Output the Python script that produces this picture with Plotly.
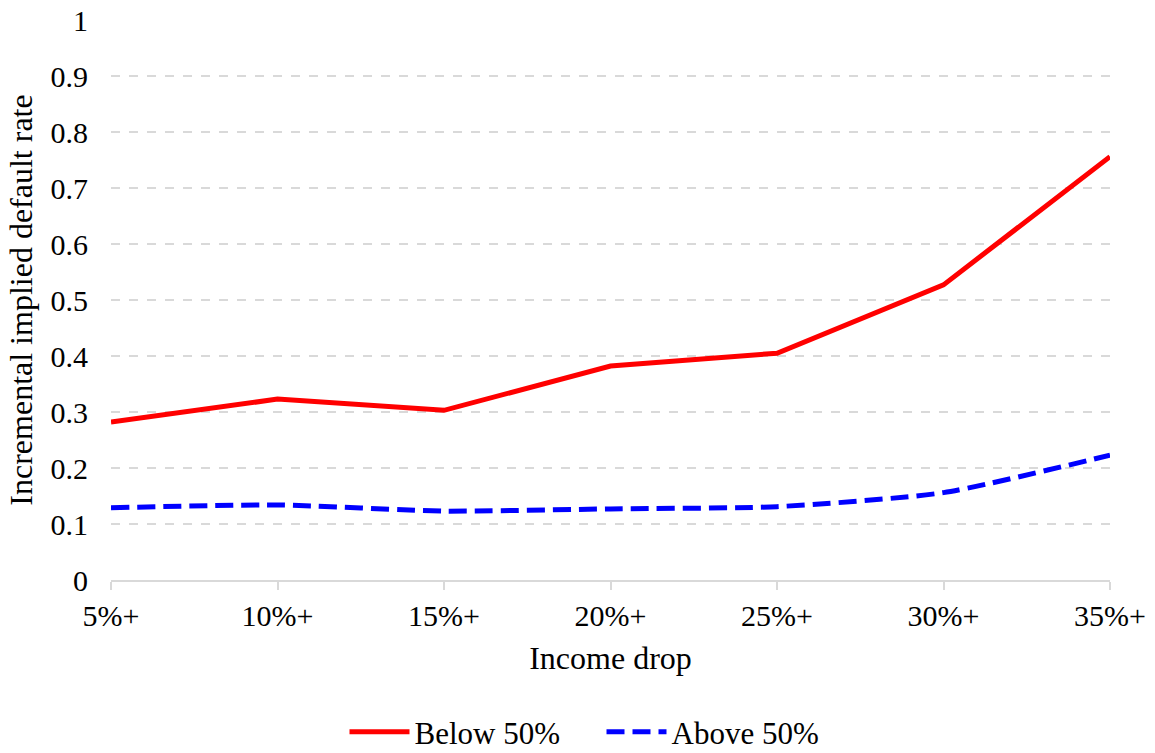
import plotly.graph_objects as go

# Income-drop buckets and the incremental implied default rate per group
income_drop = ["5%+", "10%+", "15%+", "20%+", "25%+", "30%+", "35%+"]
below_50 = [0.282, 0.323, 0.303, 0.382, 0.405, 0.527, 0.756]
above_50 = [0.129, 0.134, 0.123, 0.127, 0.131, 0.156, 0.223]

y_ticks = [0, 0.1, 0.2, 0.3, 0.4, 0.5, 0.6, 0.7, 0.8, 0.9, 1]
y_tick_text = ["0", "0.1", "0.2", "0.3", "0.4", "0.5", "0.6", "0.7", "0.8", "0.9", "1"]

FONT = "Liberation Serif, Times New Roman, serif"
GRID = "#d9d9d9"

fig = go.Figure()
fig.add_trace(go.Scatter(
    x=income_drop, y=below_50, name="Below 50%", mode="lines",
    line=dict(color="#ff0000", width=5),
))
fig.add_trace(go.Scatter(
    x=income_drop, y=above_50, name="Above 50%", mode="lines",
    line=dict(color="#0000ff", width=5, dash="18px,8px", shape="spline", smoothing=0.6),
))

fig.update_layout(
    width=1155, height=753,
    margin=dict(l=111, r=45, t=20, b=173, autoexpand=False),
    paper_bgcolor="white", plot_bgcolor="white",
    font=dict(family=FONT, size=30, color="black"),
    showlegend=True,
    legend=dict(
        orientation="h", x=0.5 + 24 / 1155, xanchor="center", xref="container",
        y=21 / 753, yanchor="middle", yref="container",
        font=dict(family=FONT, size=31), itemwidth=60, traceorder="normal",
        entrywidth=182, entrywidthmode="pixels",
    ),
    xaxis=dict(
        type="category", range=[0, 6], automargin=False,
        showgrid=False, showline=True, linecolor=GRID, linewidth=2,
        ticks="outside", ticklen=8, tickcolor=GRID, tickwidth=2,
        tickfont=dict(family=FONT, size=30),
        title=dict(text="Income drop", font=dict(family=FONT, size=32), standoff=16),
        zeroline=False,
    ),
    yaxis=dict(
        range=[0, 1], tickvals=y_ticks, ticktext=y_tick_text, automargin=False,
        showgrid=True, gridcolor=GRID, gridwidth=1.5, griddash="dash",
        showline=False, zeroline=False, ticks="",
        ticklabelstandoff=22,
        tickfont=dict(family=FONT, size=30),
        title=dict(text="Incremental implied default rate", font=dict(family=FONT, size=32), standoff=8),
    ),
)

fig.write_html("out.html")
